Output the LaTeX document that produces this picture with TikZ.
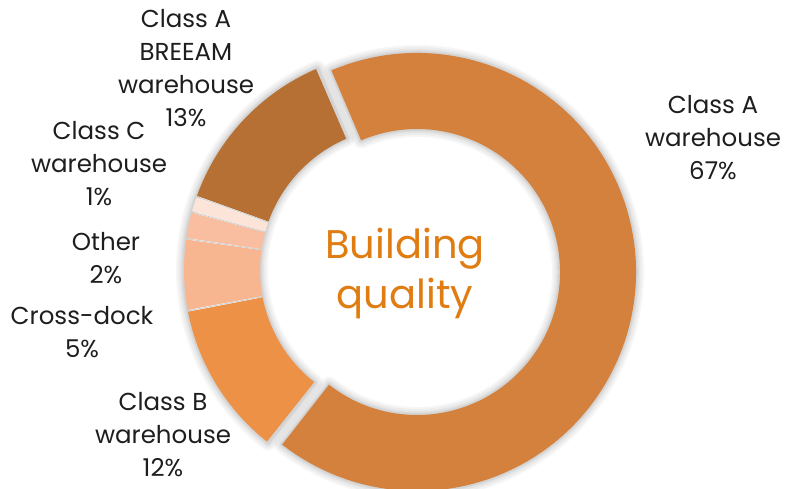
\documentclass[tikz,border=0pt]{standalone}
\usepackage{fontspec}
\setmainfont{Poppins}
\definecolor{cA}{HTML}{D4813D}
\definecolor{cBR}{HTML}{B77033}
\definecolor{cB}{HTML}{EC9146}
\definecolor{cX}{HTML}{F7B590}
\definecolor{cO}{HTML}{F8BE9F}
\definecolor{cC}{HTML}{FDE4D8}
\definecolor{ctitle}{HTML}{E07D12}
\definecolor{ctext}{HTML}{1E1E1E}
\tikzset{
  lbl/.style={align=center, text=ctext, font=\fontsize{24.5}{33}\selectfont, inner sep=0pt},
  ttl/.style={align=center, text=ctitle, font=\fontsize{40}{50}\selectfont, inner sep=0pt},
}
% slice: #1 center name, #2 start bearing, #3 end bearing
\newcommand{\myslice}[3]{%
  ([shift={(90-#2:219)}]#1) arc[start angle=90-#2, end angle=90-#3, radius=219]
  -- ([shift={(90-#3:143)}]#1) arc[start angle=90-#3, end angle=90-#2, radius=143] -- cycle}
\begin{document}
\begin{tikzpicture}[x=1pt,y=1pt]
\useasboundingbox (0,0) rectangle (786,489);
\fill[white] (0,0) rectangle (786,489);
\coordinate (c) at (403,219);
\coordinate (ca) at (417,217);
% soft shadows
\foreach \w in {16,12,8,5,3}{
  \draw[black, opacity=0.035, line width=\w pt, line join=round] \myslice{ca}{337}{578};
  \draw[black, opacity=0.035, line width=\w pt, line join=round] \myslice{c}{218}{337};
}
% slices
\fill[cA] \myslice{ca}{337}{578};
\fill[cB] \myslice{c}{218.4}{259};
\fill[cX] \myslice{c}{259.5}{278};
\fill[cO] \myslice{c}{278.4}{285.2};
\fill[cC] \myslice{c}{285.6}{289.3};
\fill[cBR] \myslice{c}{289.8}{336.6};
% thin separators
\foreach \b in {259.25,278.2,285.4,289.55}{
  \draw[black!18, line width=0.9pt] ([shift={(90-\b:143)}]c) -- ([shift={(90-\b:219)}]c);
}
% labels
\node[ttl] (title) at (405,216) {Building\\quality};
\node[lbl] (la) at (713,351) {Class A\\warehouse\\67\%};
\node[lbl] (lbr) at (186,420.5) {Class A\\BREEAM\\warehouse\\13\%};
\node[lbl] (lc) at (99,325.5) {Class C\\warehouse\\1\%};
\node[lbl] (lo) at (106,231) {Other\\2\%};
\node[lbl] (lx) at (82,156.5) {Cross-dock\\5\%};
\node[lbl] (lb) at (163,54) {Class B\\warehouse\\12\%};
\end{tikzpicture}
\end{document}
